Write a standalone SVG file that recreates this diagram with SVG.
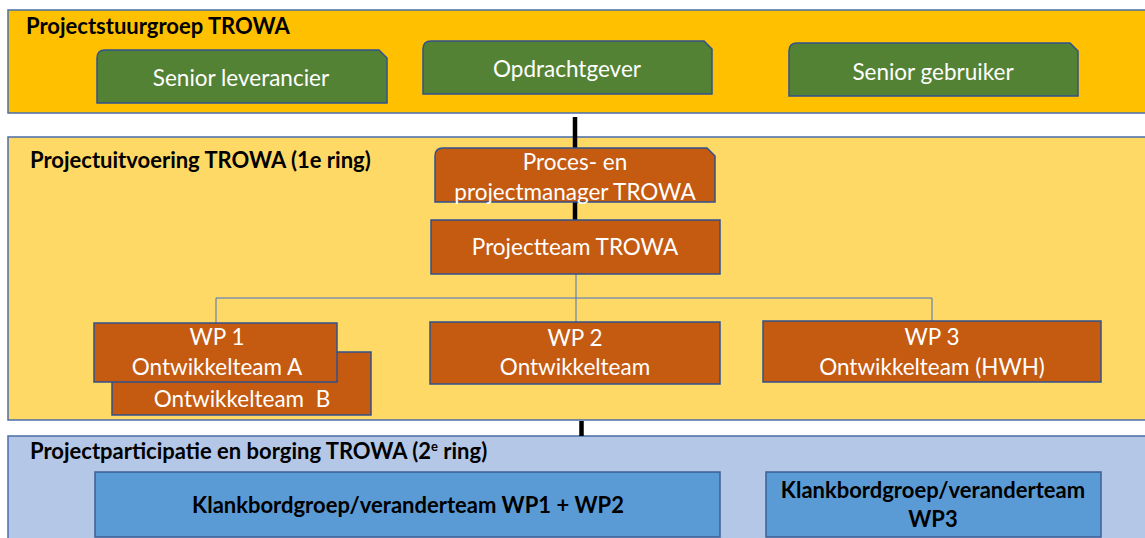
<svg xmlns="http://www.w3.org/2000/svg" width="1145" height="538" viewBox="0 0 1145 538">
<style>
.band{stroke:#4A6EA8;stroke-width:1.5}
.green{fill:#548235;stroke:#2F528F;stroke-width:1.5}
.orange{fill:#C55A11;stroke:#2F528F;stroke-width:1.5}
.blue{fill:#5B9BD5;stroke:#3C5F95;stroke-width:1.5}
.title{font-family:Lato,"Liberation Sans",sans-serif;font-weight:bold;font-size:22px;fill:#000}
.wt{font-family:Lato,"Liberation Sans",sans-serif;font-size:22.5px;fill:#fff;text-anchor:middle}
.bt{font-family:Lato,"Liberation Sans",sans-serif;font-weight:bold;font-size:22px;fill:#000;text-anchor:middle}
.thin{fill:none;stroke:#4472C4;stroke-width:1}
.thick{stroke:#000;stroke-width:4.5}
</style>
<rect width="1145" height="538" fill="#fff"/>
<g id="band-stuurgroep">
<rect class="band" x="8" y="10" width="1145" height="103" fill="#FFC000"/>
<text class="title" x="26" y="34">Projectstuurgroep TROWA</text>
</g>
<g id="band-uitvoering">
<rect class="band" x="8" y="137" width="1145" height="283" fill="#FFD966"/>
<text class="title" x="30" y="168">Projectuitvoering TROWA (1e ring)</text>
</g>
<g id="band-participatie">
<rect class="band" x="8" y="436" width="1145" height="110" fill="#B4C7E7"/>
<text class="title" x="30" y="459">Projectparticipatie en borging TROWA (2<tspan font-size="13" dy="-8">e</tspan><tspan dy="8"> ring)</tspan></text>
</g>
<g id="connectors">
<line class="thick" x1="575" y1="117" x2="575" y2="221"/>
<line class="thick" x1="581.5" y1="421" x2="581.5" y2="436"/>
<polyline class="thin" points="576,274 576,298 216,298 216,323"/>
<polyline class="thin" points="576,298 932,298 932,321"/>
<line class="thin" x1="576" y1="298" x2="576" y2="322"/>
</g>
<g id="node-senior-leverancier">
<path class="green" d="M105,50 L379,50 L387,58 L387,103 L97,103 L97,58 Q97,50 105,50 Z"/>
<text class="wt" x="241" y="86">Senior leverancier</text>
</g>
<g id="node-opdrachtgever">
<path class="green" d="M431,41 L704,41 L712,49 L712,94 L423,94 L423,49 Q423,41 431,41 Z"/>
<text class="wt" x="567" y="77">Opdrachtgever</text>
</g>
<g id="node-senior-gebruiker">
<path class="green" d="M797,43 L1070,43 L1078,51 L1078,96 L789,96 L789,51 Q789,43 797,43 Z"/>
<text class="wt" x="933" y="80">Senior gebruiker</text>
</g>
<g id="node-procesmanager">
<path class="orange" d="M443,148 L707,148 L715,156 L715,202 L435,202 L435,156 Q435,148 443,148 Z"/>
<text class="wt" x="575" y="170">Proces- en</text>
<text class="wt" x="575" y="200">projectmanager TROWA</text>
</g>
<g id="node-projectteam">
<rect class="orange" x="431" y="220" width="289" height="54"/>
<text class="wt" x="575" y="255">Projectteam TROWA</text>
</g>
<g id="node-wp1">
<rect class="orange" x="112" y="352" width="259" height="63"/>
<text class="wt" x="242" y="407" xml:space="preserve">Ontwikkelteam  B</text>
<rect class="orange" x="94" y="323" width="243" height="59"/>
<text class="wt" x="217" y="345">WP 1</text>
<text class="wt" x="217" y="375">Ontwikkelteam A</text>
</g>
<g id="node-wp2">
<rect class="orange" x="430" y="322" width="290" height="62"/>
<text class="wt" x="575" y="346">WP 2</text>
<text class="wt" x="575" y="375">Ontwikkelteam</text>
</g>
<g id="node-wp3">
<rect class="orange" x="763" y="321" width="338" height="61"/>
<text class="wt" x="932" y="345">WP 3</text>
<text class="wt" x="932" y="375">Ontwikkelteam (HWH)</text>
</g>
<g id="node-klankbord-wp12">
<rect class="blue" x="95" y="472" width="625" height="65"/>
<text class="bt" x="408" y="513">Klankbordgroep/veranderteam WP1 + WP2</text>
</g>
<g id="node-klankbord-wp3">
<rect class="blue" x="766" y="472" width="335" height="65"/>
<text class="bt" x="933" y="498">Klankbordgroep/veranderteam</text>
<text class="bt" x="933" y="527">WP3</text>
</g>
</svg>
